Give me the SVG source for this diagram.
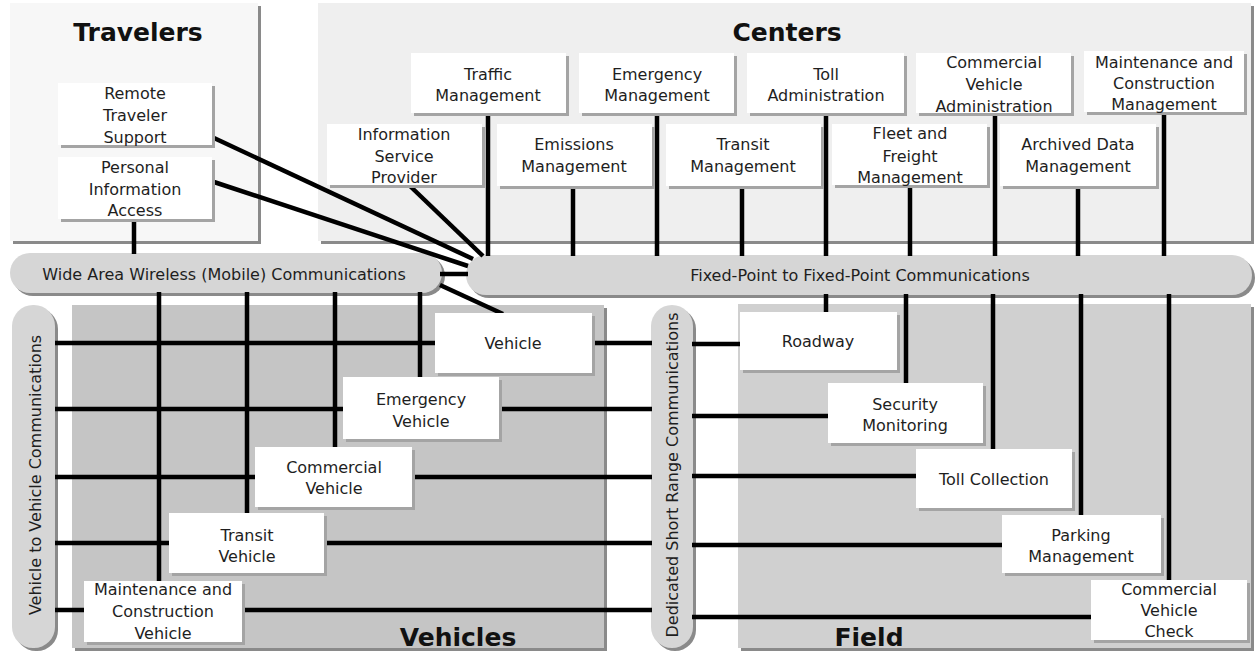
<svg xmlns="http://www.w3.org/2000/svg" width="1257" height="653" viewBox="0 0 1257 653">
<style>
text{font-family:"DejaVu Sans",Verdana,sans-serif;font-size:16px;fill:#1e1e1e;text-anchor:middle}
.title{font-weight:bold;font-size:25px;fill:#111}
.box{fill:#ffffff}
.bsh{fill:#a4a4a4}
.psh{fill:#8a8a8a}
.pill{fill:#d6d6d6}
.c line{stroke:#000;stroke-width:4.5;stroke-linecap:butt}
</style>
<rect width="1257" height="653" fill="#ffffff"/>
<g id="panels">
<g id="travelers-panel"><rect class="psh" x="13" y="6" width="248" height="238"/><rect x="10" y="3" width="248" height="238" fill="#f7f7f7"/><text class="title" x="138" y="41">Travelers</text></g>
<g id="centers-panel"><rect class="psh" x="321" y="6" width="933" height="238"/><rect x="318" y="3" width="933" height="238" fill="#efefef"/><text class="title" x="787" y="41">Centers</text></g>
<g id="vehicles-panel"><rect class="psh" x="75" y="308" width="532" height="343"/><rect x="72" y="305" width="532" height="343" fill="#c5c5c5"/><text class="title" x="458" y="646">Vehicles</text></g>
<g id="field-panel"><rect class="psh" x="741" y="307" width="513" height="344"/><rect x="738" y="304" width="513" height="344" fill="#d0d0d0"/><text class="title" x="869" y="646">Field</text></g>
</g>
<g id="wide-area-wireless"><rect class="psh" x="13" y="256" width="432" height="40" rx="20"/><rect class="pill" x="10" y="253" width="432" height="40" rx="20"/><text x="224" y="280">Wide Area Wireless (Mobile) Communications</text></g>
<g id="fixed-point"><rect class="psh" x="469" y="258" width="786" height="40" rx="20"/><rect class="pill" x="466" y="255" width="786" height="40" rx="20"/><text x="860" y="281">Fixed-Point to Fixed-Point Communications</text></g>
<g id="v2v"><rect class="psh" x="15" y="308" width="43" height="343" rx="21"/><rect class="pill" x="12" y="305" width="43" height="343" rx="21"/><text x="35" y="481" transform="rotate(-90 35 475)">Vehicle to Vehicle Communications</text></g>
<g id="dsrc"><rect class="psh" x="654" y="308" width="42" height="343" rx="21"/><rect class="pill" x="651" y="305" width="42" height="343" rx="21"/><text x="672" y="481" transform="rotate(-90 672 475)">Dedicated Short Range Communications</text></g>
<g id="connectors" class="c">
<line x1="134" y1="219" x2="134" y2="254"/>
<line x1="214" y1="138" x2="473" y2="259"/>
<line x1="214" y1="182" x2="468" y2="266"/>
<line x1="410" y1="186" x2="483" y2="256"/>
<line x1="488" y1="112" x2="488" y2="256"/>
<line x1="573" y1="186" x2="573" y2="256"/>
<line x1="657" y1="112" x2="657" y2="256"/>
<line x1="742" y1="186" x2="742" y2="256"/>
<line x1="826" y1="112" x2="826" y2="256"/>
<line x1="910" y1="185" x2="910" y2="256"/>
<line x1="995" y1="112" x2="995" y2="256"/>
<line x1="1078" y1="186" x2="1078" y2="256"/>
<line x1="1164" y1="111" x2="1164" y2="256"/>
<line x1="440" y1="274" x2="468" y2="274"/>
<line x1="440" y1="285" x2="503" y2="314"/>
<line x1="420" y1="292" x2="420" y2="378"/>
<line x1="335" y1="292" x2="335" y2="448"/>
<line x1="247" y1="292" x2="247" y2="514"/>
<line x1="159" y1="292" x2="159" y2="582"/>
<line x1="826" y1="294" x2="826" y2="313"/>
<line x1="906" y1="294" x2="906" y2="384"/>
<line x1="993" y1="294" x2="993" y2="450"/>
<line x1="1081" y1="294" x2="1081" y2="516"/>
<line x1="1169" y1="294" x2="1169" y2="581"/>
<line x1="55" y1="343" x2="436" y2="343"/>
<line x1="55" y1="409" x2="344" y2="409"/>
<line x1="55" y1="477" x2="256" y2="477"/>
<line x1="55" y1="543" x2="170" y2="543"/>
<line x1="55" y1="610" x2="85" y2="610"/>
<line x1="591" y1="343" x2="652" y2="343"/>
<line x1="498" y1="409" x2="652" y2="409"/>
<line x1="411" y1="477" x2="652" y2="477"/>
<line x1="323" y1="543" x2="652" y2="543"/>
<line x1="241" y1="610" x2="652" y2="610"/>
<line x1="692" y1="344" x2="741" y2="344"/>
<line x1="692" y1="416" x2="829" y2="416"/>
<line x1="692" y1="476" x2="917" y2="476"/>
<line x1="692" y1="545" x2="1003" y2="545"/>
<line x1="692" y1="617" x2="1092" y2="617"/>
</g>
<g id="remote-traveler-support"><rect class="bsh" x="61" y="86" width="154" height="62"/><rect class="box" x="58" y="83" width="154" height="62"/><text x="135" y="99">Remote</text><text x="135" y="121">Traveler</text><text x="135" y="143">Support</text></g>
<g id="personal-information-access"><rect class="bsh" x="61" y="160" width="154" height="62"/><rect class="box" x="58" y="157" width="154" height="62"/><text x="135" y="173">Personal</text><text x="135" y="195">Information</text><text x="135" y="216">Access</text></g>
<g id="traffic-management"><rect class="bsh" x="414" y="56" width="155" height="60"/><rect class="box" x="411" y="53" width="155" height="60"/><text x="488" y="80">Traffic</text><text x="488" y="101">Management</text></g>
<g id="emergency-management"><rect class="bsh" x="582" y="56" width="155" height="60"/><rect class="box" x="579" y="53" width="155" height="60"/><text x="657" y="80">Emergency</text><text x="657" y="101">Management</text></g>
<g id="toll-administration"><rect class="bsh" x="750" y="56" width="157" height="60"/><rect class="box" x="747" y="53" width="157" height="60"/><text x="826" y="80">Toll</text><text x="826" y="101">Administration</text></g>
<g id="commercial-vehicle-administration"><rect class="bsh" x="919" y="56" width="155" height="60"/><rect class="box" x="916" y="53" width="155" height="60"/><text x="994" y="68">Commercial</text><text x="994" y="90">Vehicle</text><text x="994" y="112">Administration</text></g>
<g id="maintenance-construction-management"><rect class="bsh" x="1087" y="54" width="160" height="61"/><rect class="box" x="1084" y="51" width="160" height="61"/><text x="1164" y="68">Maintenance and</text><text x="1164" y="89">Construction</text><text x="1164" y="110">Management</text></g>
<g id="information-service-provider"><rect class="bsh" x="330" y="127" width="155" height="61"/><rect class="box" x="327" y="124" width="155" height="61"/><text x="404" y="140">Information</text><text x="404" y="162">Service</text><text x="404" y="183">Provider</text></g>
<g id="emissions-management"><rect class="bsh" x="500" y="127" width="155" height="62"/><rect class="box" x="497" y="124" width="155" height="62"/><text x="574" y="150">Emissions</text><text x="574" y="172">Management</text></g>
<g id="transit-management"><rect class="bsh" x="669" y="127" width="155" height="62"/><rect class="box" x="666" y="124" width="155" height="62"/><text x="743" y="150">Transit</text><text x="743" y="172">Management</text></g>
<g id="fleet-freight-management"><rect class="bsh" x="835" y="127" width="155" height="61"/><rect class="box" x="832" y="124" width="155" height="61"/><text x="910" y="139">Fleet and</text><text x="910" y="162">Freight</text><text x="910" y="183">Management</text></g>
<g id="archived-data-management"><rect class="bsh" x="1003" y="127" width="156" height="62"/><rect class="box" x="1000" y="124" width="156" height="62"/><text x="1078" y="150">Archived Data</text><text x="1078" y="172">Management</text></g>
<g id="vehicle"><rect class="bsh" x="438" y="316" width="157" height="60"/><rect class="box" x="435" y="313" width="157" height="60"/><text x="513" y="349">Vehicle</text></g>
<g id="emergency-vehicle"><rect class="bsh" x="346" y="380" width="156" height="62"/><rect class="box" x="343" y="377" width="156" height="62"/><text x="421" y="405">Emergency</text><text x="421" y="427">Vehicle</text></g>
<g id="commercial-vehicle"><rect class="bsh" x="258" y="450" width="157" height="60"/><rect class="box" x="255" y="447" width="157" height="60"/><text x="334" y="473">Commercial</text><text x="334" y="494">Vehicle</text></g>
<g id="transit-vehicle"><rect class="bsh" x="172" y="516" width="155" height="60"/><rect class="box" x="169" y="513" width="155" height="60"/><text x="247" y="541">Transit</text><text x="247" y="562">Vehicle</text></g>
<g id="maintenance-construction-vehicle"><rect class="bsh" x="87" y="584" width="158" height="61"/><rect class="box" x="84" y="581" width="158" height="61"/><text x="163" y="595">Maintenance and</text><text x="163" y="617">Construction</text><text x="163" y="639">Vehicle</text></g>
<g id="roadway"><rect class="bsh" x="743" y="315" width="157" height="58"/><rect class="box" x="740" y="312" width="157" height="58"/><text x="818" y="347">Roadway</text></g>
<g id="security-monitoring"><rect class="bsh" x="831" y="386" width="155" height="60"/><rect class="box" x="828" y="383" width="155" height="60"/><text x="905" y="410">Security</text><text x="905" y="431">Monitoring</text></g>
<g id="toll-collection"><rect class="bsh" x="919" y="452" width="156" height="59"/><rect class="box" x="916" y="449" width="156" height="59"/><text x="994" y="485">Toll Collection</text></g>
<g id="parking-management"><rect class="bsh" x="1005" y="518" width="159" height="58"/><rect class="box" x="1002" y="515" width="159" height="58"/><text x="1081" y="541">Parking</text><text x="1081" y="562">Management</text></g>
<g id="commercial-vehicle-check"><rect class="bsh" x="1094" y="583" width="156" height="60"/><rect class="box" x="1091" y="580" width="156" height="60"/><text x="1169" y="595">Commercial</text><text x="1169" y="616">Vehicle</text><text x="1169" y="637">Check</text></g>
</svg>
